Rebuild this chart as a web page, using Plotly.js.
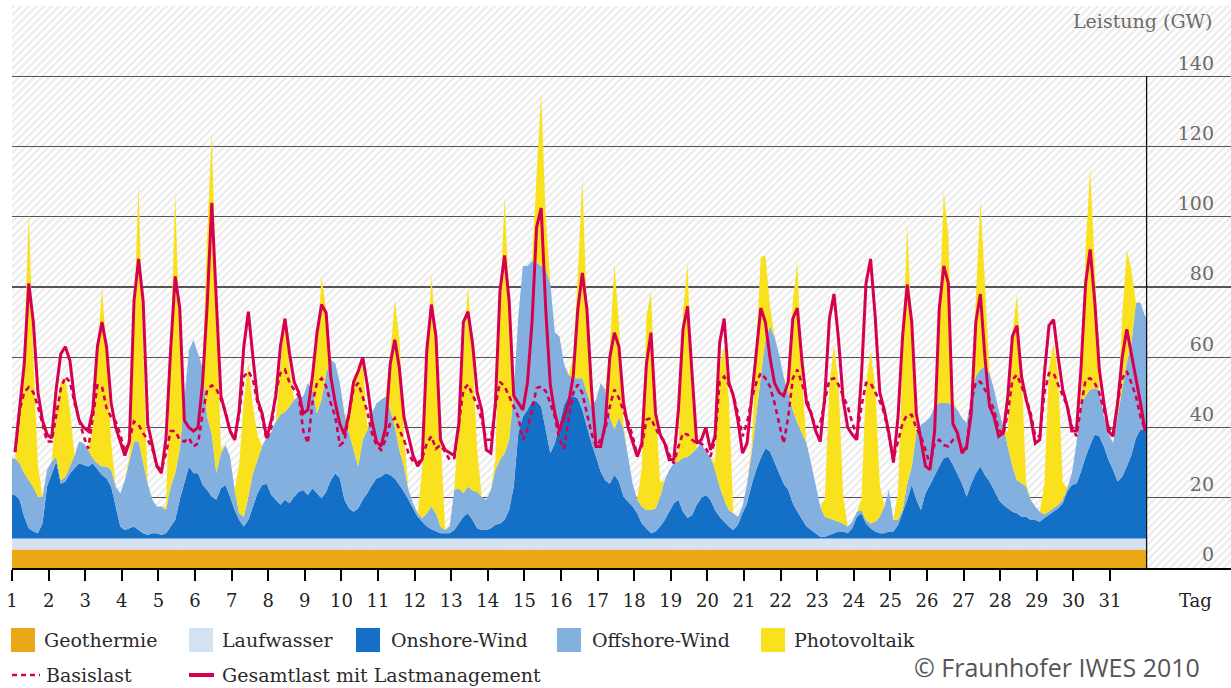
<!DOCTYPE html>
<html><head><meta charset="utf-8">
<script src="https://cdn.plot.ly/plotly-3.0.1.min.js"></script>
<style>html,body{margin:0;padding:0;background:#fff}#chart{width:1231px;height:688px}</style>
</head><body><div id="chart"></div>
<script>
// Sample hours within each day (3-hourly)
const sampleHours = [2, 5, 8, 11, 14, 17, 20, 23];
const dayLabels = ['1','2','3','4','5','6','7','8','9','10','11','12','13','14','15','16','17','18','19','20','21','22','23','24','25','26','27','28','29','30','31'];
const yTicks = [0, 20, 40, 60, 80, 100, 120, 140];

// Constant bands (GW)
const geothermie = [5.3, 5.3];
const laufwasser = [3.1, 3.1];
const bandDays = [1, 32];

// Onshore-Wind (GW), 8 values per day
const onshore = [
 12.4,11.0,6.2,2.9,2.0,1.5,4.3,14.8,
 18.1,21.9,15.6,16.2,18.6,20.0,21.4,20.9,
 20.5,21.4,19.6,18.1,17.1,14.8,9.1,3.4,
 2.4,2.9,3.4,2.4,1.5,1.0,1.5,1.5,
 1.0,1.5,3.4,5.3,11.0,15.6,20.5,18.6,
 18.6,15.2,13.8,11.9,11.0,14.3,15.2,11.9,
 8.1,5.3,3.4,5.3,9.1,12.9,15.2,15.6,
 12.4,11.0,9.6,11.0,10.0,11.9,13.3,13.8,
 12.4,14.3,12.9,11.4,13.3,16.6,18.6,17.1,
 11.0,8.6,7.6,8.6,11.0,12.9,15.2,17.1,
 17.6,18.6,18.1,17.1,15.2,13.3,11.0,8.6,
 6.2,4.8,3.4,2.6,2.0,1.5,1.5,1.5,
 2.4,4.3,6.2,7.2,5.3,2.9,2.4,2.4,
 2.9,3.9,4.3,5.3,8.1,14.8,30.0,34.7,
 36.6,39.1,39.1,37.6,30.9,24.3,27.1,32.8,
 38.0,40.5,40.5,39.9,36.6,31.9,27.1,23.3,
 19.1,16.6,15.6,18.1,16.2,11.9,10.5,9.1,
 7.2,4.3,2.9,1.5,2.0,3.4,5.3,7.6,
 10.0,11.0,7.6,5.8,6.7,9.6,11.5,12.4,
 11.0,8.1,6.2,4.8,3.4,2.4,3.9,7.2,
 10.0,15.3,19.6,22.9,25.7,24.8,21.9,18.6,
 15.6,13.8,10.0,7.6,5.3,3.4,2.4,1.5,
 0.5,0.5,1.0,1.5,2.0,2.0,1.5,2.9,
 6.2,7.2,4.3,2.9,2.0,1.5,1.5,2.0,
 2.0,3.9,7.2,11.0,15.3,11.0,8.1,12.9,
 15.3,18.1,20.5,22.9,23.3,21.0,18.1,15.6,
 11.9,15.6,18.6,20.5,18.1,16.2,13.8,11.0,
 9.6,8.6,7.6,7.2,6.2,6.2,5.3,5.3,
 4.8,5.8,6.7,7.6,8.6,10.0,13.4,15.3,
 15.6,19.1,23.3,26.6,29.6,29.1,26.2,22.4,
 19.6,16.2,17.6,20.5,23.8,28.6,31.0,31.0
];

// Offshore-Wind (GW)
const offshore = [
 10.4,10.4,12.4,13.7,12.6,10.4,7.6,4.8,
 3.8,1.4,1.0,1.4,2.0,3.6,6.2,6.2,
 4.7,1.4,1.8,2.4,3.4,4.8,5.7,9.5,
 14.2,19.5,24.2,25.2,20.1,14.6,9.5,7.6,
 8.1,6.6,11.2,13.3,14.2,24.0,33.1,38.0,
 34.0,33.4,20.8,17.7,7.6,10.0,11.4,11.4,
 5.7,1.9,2.8,6.6,9.5,9.5,11.0,13.4,
 18.0,22.3,25.6,25.1,27.6,27.6,27.1,26.6,
 31.8,28.0,22.7,28.2,33.8,34.3,31.3,27.1,
 24.6,21.4,17.6,11.9,17.1,18.0,20.4,21.4,
 21.9,21.8,18.5,14.8,10.0,7.2,2.8,1.4,
 1.0,1.0,3.8,6.5,5.2,1.9,0.9,1.9,
 11.4,10.0,6.7,7.6,8.3,10.4,9.5,8.6,
 10.9,15.7,18.1,19.0,20.0,26.6,33.2,42.9,
 41.0,39.9,39.5,40.0,45.7,48.3,31.5,24.8,
 11.6,6.1,5.1,5.7,9.0,9.7,10.5,16.3,
 25.2,25.8,19.0,12.9,18.4,19.1,12.8,6.5,
 3.8,4.8,5.2,6.6,6.6,8.5,11.3,12.0,
 11.4,10.9,15.3,17.5,17.6,16.1,15.6,12.4,
 12.3,11.5,8.6,6.2,4.7,4.8,2.3,1.9,
 5.6,9.0,16.0,24.2,30.9,35.6,35.7,33.7,
 30.5,27.6,26.6,25.3,24.7,23.7,19.0,14.1,
 8.6,5.7,4.8,3.8,2.8,2.3,1.9,1.9,
 1.4,0.9,1.0,1.4,2.8,4.7,7.6,11.8,
 3.3,1.4,0.9,4.6,5.2,19.0,24.3,20.4,
 19.3,19.5,18.1,15.7,15.3,17.1,18.5,18.7,
 21.0,24.9,27.6,27.6,30.9,30.9,28.6,25.6,
 22.3,17.6,12.9,9.4,9.4,8.6,5.7,3.8,
 2.8,1.0,1.0,1.0,1.0,1.0,1.0,3.3,
 11.5,19.5,17.3,15.8,13.0,13.3,8.4,7.6,
 7.5,18.4,24.8,29.5,31.8,38.5,36.1,32.3
];

// Photovoltaik (GW)
const photovoltaik = [
 0,12,35,76,37,9,0,0,
 0,13,28,28,16,0,0,0,
 0,9,32,51,33,8,0,0,
 0,1,36,73,32,0,0,0,
 0,1,39,80,32,0,0,0,
 0,0,52,86,49,1,0,0,
 0,14,33,38,19,7,0,0,
 0,0,14,27,11,0,0,0,
 0,0,20,35,18,0,0,0,
 0,4,20,28,22,1,0,0,
 0,0,15,36,32,9,0,0,
 0,14,42,66,50,24,0,0,
 0,20,41,57,40,12,0,0,
 0,3,44,73,40,0,0,0,
 0,0,25,49,15,0,0,0,
 0,0,6,29,57,23,0,0,
 0,0,19,47,27,1,0,0,
 0,11,55,62,30,4,0,0,
 0,3,42,55,16,0,0,0,
 0,2,34,44,32,0,0,0,
 0,2,18,33,24,6,0,0,
 0,1,31,46,16,0,0,0,
 0,5,38,50,39,8,0,0,
 0,3,39,49,39,9,0,0,
 0,8,45,74,38,0,0,0,
 0,0,25,60,48,1,0,0,
 0,0,22,48,24,0,0,0,
 0,4,38,53,33,1,0,0,
 0,9,41,47,37,5,0,0,
 0,2,42,63,35,0,0,0,
 0,0,21,32,21,0,0,0
];

// Basislast (GW)
const basislast = [
 33,45,50,51.5,50,46,41,36,
 36,43,51,54.5,53,47,42,37.5,
 34,43,52,51.7,45.5,43,41.7,38,
 33,36.5,41.7,40.8,38.4,36.5,34,29,
 28,32.7,39,39,36.5,36,37,34.6,
 35.5,44,50.8,52,51,48,44.6,39,
 36.5,44,54.5,56,53.6,47,43,36.5,
 40,50,55.5,56.5,52.7,50.8,49,39,
 35.5,47,52.7,54,51.7,47,43,35,
 36,44,51,52.7,48.4,44.6,38.4,35,
 33.6,36.5,41.3,42.7,39.4,36.5,32.7,30.3,
 29.8,31.3,35.5,37.5,34,35,33,30.8,
 31.3,41.3,50.8,52.2,49.3,46.5,42.2,36.5,
 36.5,46,53,51.7,48.9,46,43,36.5,
 39.4,45,51.2,51.7,50.3,47,43,36.5,
 34,42.2,49.8,52.2,49.8,44,38.4,34.6,
 36.5,39.4,46,50.8,48.4,44.6,41.7,37.5,
 32.2,34.6,42.2,42.7,39.7,37.5,36,32.2,
 29.8,34.6,38.4,38,36.5,35.5,35.5,34,
 31.7,36.5,53,54.5,52.2,49.3,44,37.5,
 41.3,48,52.7,55.5,54,51.7,47,41.3,
 35.5,43,54,56.5,52.7,48.4,44,39.7,
 41.3,47,53.6,54,52.2,48.9,46,41.3,
 37.5,46,52.7,52.7,50.3,47.5,44,37.5,
 31.3,36,41.3,43.6,43.6,39.8,37.5,33.6,
 29.4,35.5,36.5,35,34.6,36.5,37.5,33.6,
 34,47,53,53,50.8,48,45,39.4,
 38,44,53.6,55,51.7,48.4,44,37.5,
 37.5,49.8,55.5,55.5,52.2,48.9,46,40.3,
 37.5,46,53.6,54,52.7,49.8,45,40.3,
 38.4,47,54,56,52.7,48.9,43,39.4
];

// Gesamtlast mit Lastmanagement (GW)
const gesamtlast = [
 33,45,58,81,70,50,42,38,
 37,51,61,63,59,48,42,40,
 39,45,63,70,63,47,40,36,
 32,36,76,88,76,41,35,29,
 27,37,62,83,74,42,40,39,
 40,53,75,104,76,49,44,39,
 36.5,45,63,73,60,48,44,37,
 42,49,63,71,61,53,50,44,
 45,54.5,67,75,72.6,54.5,47,41,
 38,44,53,56,60,52,42,36,
 34.6,40,58,65,57,43,37.5,32,
 29,31,62,75,66,36.5,33.6,32.7,
 32,41,70,73,64,50,45,33.6,
 32.7,47,79,89,76,49,47,45,
 52.7,70,97,102.5,73.6,52,44,39,
 43,47,54.5,73.6,84,73.6,51,34.6,
 34.6,41,60,67,63,47,40,35.5,
 31.7,35.5,58,67,44,38,35.5,30.8,
 31,45,68,74.5,54.5,35.5,36.5,40,
 33.6,37.5,64,71,53,49,42,32.7,
 35.5,48,62,74,70,60,52.7,50,
 49,53,71,74,59,47,44,39,
 36,49,71,78,65,48,40,38,
 36.5,54.5,81,88,71.7,50,45,38.4,
 30,43,66,80.7,70,44,36.5,29,
 28,39,73.6,86,81,41,38.4,32.7,
 34.6,44,70,78,60,46,43,37.5,
 38.4,49,66,69,54.5,48,43,35.5,
 36.5,55.5,69,70.7,60,50.8,46,39,
 39,57,81,90.7,76,56.5,47,39,
 37.5,47,60,68,61,54.5,47,39
];

// time axis (day + hour/24)
const t = [];
for (let d = 1; d <= dayLabels.length; d++) for (const h of sampleHours) t.push(d + h / 24);
const dayTicks = dayLabels.map(Number);

const C = {
  geo: '#EBA716', lauf: '#D5E2F4', on: '#1470C6', off: '#84B0E0', pv: '#FAE11E', red: '#D5004F'
};

function area(name, x, y, color, extra) {
  return Object.assign({type:'scatter', mode:'lines', name, x, y, stackgroup:'gen',
    line:{width:0, color}, fillcolor: color, fill:'tonexty', hoverinfo:'skip', showlegend:false}, extra || {});
}

const traces = [
  area('Geothermie', bandDays, geothermie, C.geo, {stackgaps:'interpolate', fill:'tozeroy'}),
  area('Laufwasser', bandDays, laufwasser, C.lauf),
  area('Onshore-Wind', t, onshore, C.on),
  area('Offshore-Wind', t, offshore, C.off),
  area('Photovoltaik', t, photovoltaik, C.pv),
  {type:'scatter', mode:'lines', name:'Basislast', x:t, y:basislast,
   line:{color:C.red, width:2.6, dash:'5px,4px'}, showlegend:false, hoverinfo:'skip'},
  {type:'scatter', mode:'lines', name:'Gesamtlast mit Lastmanagement', x:t, y:gesamtlast,
   line:{color:C.red, width:3}, showlegend:false, hoverinfo:'skip'}
];

// pixel -> paper helpers (plot area: x 12..1231, y 6..568)
const PX = x => (x - 12) / 1219;
const PY = y => (568 - y) / 562;

const hatchSvg = "<svg xmlns='http://www.w3.org/2000/svg' width='1219' height='562'>" +
  "<defs><pattern id='p' width='5.4' height='5.4' patternUnits='userSpaceOnUse' patternTransform='rotate(45)'>" +
  "<rect width='5.4' height='5.4' fill='#ffffff'/><rect width='2.4' height='5.4' fill='#ececec'/></pattern></defs>" +
  "<rect width='1219' height='562' fill='url(#p)'/></svg>";

const serif = 'DejaVu Serif, serif';
const legendFont = {family: serif, size: 19, color: '#2a2a2a'};

const shapes = [
  {type:'line', xref:'x', yref:'y', x0:32, x1:32, y0:0, y1:140, line:{color:'#111', width:1.3}},
  // legend swatches
  {type:'rect', xref:'paper', yref:'paper', x0:PX(11), x1:PX(35), y0:PY(652), y1:PY(628), fillcolor:C.geo, line:{width:0}},
  {type:'rect', xref:'paper', yref:'paper', x0:PX(189), x1:PX(213), y0:PY(652), y1:PY(628), fillcolor:C.lauf, line:{width:0}},
  {type:'rect', xref:'paper', yref:'paper', x0:PX(356), x1:PX(380), y0:PY(652), y1:PY(628), fillcolor:C.on, line:{width:0}},
  {type:'rect', xref:'paper', yref:'paper', x0:PX(557), x1:PX(581), y0:PY(652), y1:PY(628), fillcolor:C.off, line:{width:0}},
  {type:'rect', xref:'paper', yref:'paper', x0:PX(761), x1:PX(785), y0:PY(652), y1:PY(628), fillcolor:C.pv, line:{width:0}},
  {type:'line', xref:'paper', yref:'paper', x0:PX(12), x1:PX(40), y0:PY(675), y1:PY(675), line:{color:C.red, width:2.6, dash:'5px,4px'}},
  {type:'line', xref:'paper', yref:'paper', x0:PX(189), x1:PX(214), y0:PY(675), y1:PY(675), line:{color:C.red, width:4}}
];

function label(text, x, y, font, anchor) {
  return {text, xref:'paper', yref:'paper', x:PX(x), y:PY(y), xanchor:anchor || 'left', yanchor:'middle',
    showarrow:false, font};
}
const annotations = [
  label('Geothermie', 42, 640, legendFont),
  label('Laufwasser', 220, 640, legendFont),
  label('Onshore-Wind', 389, 640, legendFont),
  label('Offshore-Wind', 590, 640, legendFont),
  label('Photovoltaik', 792, 640, legendFont),
  label('Basislast', 44, 675, legendFont),
  label('Gesamtlast mit Lastmanagement', 220, 675, legendFont),
  label('© Fraunhofer IWES 2010', 1202, 667, {family:'Open Sans, sans-serif', size:25, color:'#555'}, 'right'),
  label('Tag', 1195, 600, {family: serif, size: 18, color:'#222'}, 'center'),
  label('Leistung (GW)', 1215, 21, {family: serif, size: 19, color:'#6a6a6a'}, 'right')
];

const layout = {
  width:1231, height:688,
  margin:{l:12, r:0, t:6, b:120, pad:0},
  paper_bgcolor:'#ffffff', plot_bgcolor:'rgba(0,0,0,0)',
  showlegend:false,
  xaxis:{range:[1, 1 + 1219/36.6], tickvals:dayTicks, ticktext:dayLabels, ticks:'outside', ticklen:11,
    tickwidth:2, tickcolor:'#000', showline:true, linecolor:'#000', linewidth:2, showgrid:false,
    zeroline:false, tickfont:{family:serif, size:18, color:'#222'}, ticklabelstandoff:4, fixedrange:true},
  yaxis:{range:[0,160], tickvals:yTicks, ticktext:yTicks.map(String), side:'right', ticklabelposition:'inside top',
    showgrid:true, gridcolor:'#555', gridwidth:1.3, zeroline:false, showline:false, ticks:'',
    tickfont:{family:serif, size:19, color:'#6a6a6a'}, ticklabelstandoff:14, fixedrange:true},
  images:[{source:'data:image/svg+xml;charset=utf-8,' + encodeURIComponent(hatchSvg),
    xref:'paper', yref:'paper', x:0, y:1, sizex:1, sizey:1, xanchor:'left', yanchor:'top',
    sizing:'stretch', layer:'below'}],
  shapes, annotations
};

Plotly.newPlot('chart', traces, layout, {displayModeBar:false, staticPlot:true});
</script>
</body></html>
